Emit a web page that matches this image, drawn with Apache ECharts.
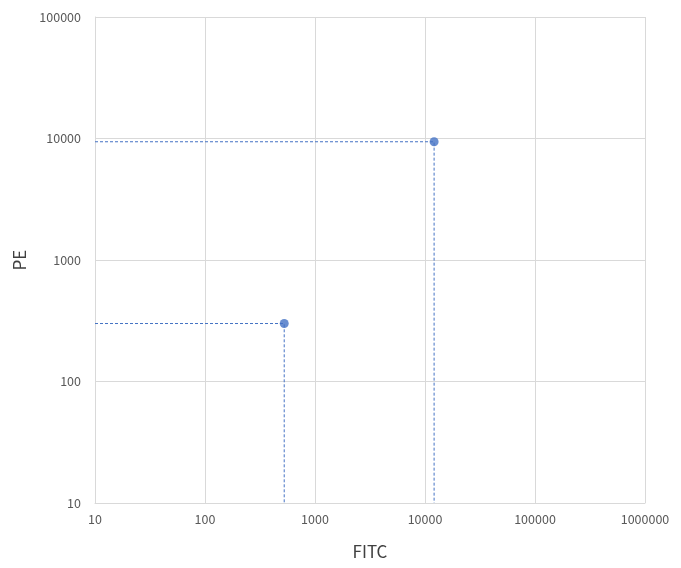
<!DOCTYPE html>
<html>
<head>
<meta charset="utf-8">
<script src="https://cdn.jsdelivr.net/npm/echarts@6/dist/echarts.min.js"></script>
<style>
  html, body { margin: 0; padding: 0; background: #fff; }
  #chart { width: 681px; height: 568px; }
</style>
</head>
<body>
<div id="chart"></div>
<script>
// 散布図のデータ（FITC / PE）
const fitcValues = [525, 12100]
const peValues = [300, 9400]
const xMin = 10
const yMin = 10

const points = fitcValues.map((x, i) => [x, peValues[i]])

// 点から両軸への破線
const guideSeries = points.map((p) => ({
  type: 'line',
  data: [[xMin, p[1]], [p[0], p[1]], [p[0], yMin]],
  symbol: 'none',
  silent: true,
  lineStyle: { color: '#4472C4', width: 1, type: [3, 2] },
  z: 1,
}))

const axisText = {
  color: '#595959',
  fontSize: 12.5,
  fontFamily: 'Noto Sans CJK JP',
  formatter: (v) => String(Math.round(v)), // 桁区切りなし
}
const nameText = { color: '#404040', fontSize: 17, fontFamily: 'Noto Sans CJK JP' }
const gridLine = { lineStyle: { color: '#d9d9d9', width: 1 } }

const chart = echarts.init(document.getElementById('chart'))
chart.setOption({
  animation: false,
  grid: { left: 95, right: 36, top: 17, bottom: 65 },
  xAxis: {
    type: 'log',
    logBase: 10,
    min: 10,
    max: 1000000,
    name: 'FITC',
    nameLocation: 'middle',
    nameGap: 40,
    nameTextStyle: nameText,
    axisLine: { show: true, lineStyle: { color: '#d9d9d9' } },
    axisTick: { show: false },
    axisLabel: { ...axisText, margin: 10, showMinLabel: true, showMaxLabel: true },
    splitLine: { show: true, ...gridLine },
  },
  yAxis: {
    type: 'log',
    logBase: 10,
    min: 10,
    max: 100000,
    name: 'PE',
    nameLocation: 'middle',
    nameGap: 66,
    nameRotate: 90,
    nameTextStyle: nameText,
    axisLine: { show: true, lineStyle: { color: '#d9d9d9' } },
    axisTick: { show: false },
    axisLabel: { ...axisText, margin: 14 },
    splitLine: { show: true, ...gridLine },
  },
  series: [
    ...guideSeries,
    {
      type: 'scatter',
      data: points,
      symbolSize: 9,
      itemStyle: { color: '#4472C4' },
      z: 3,
    },
  ],
})
</script>
</body>
</html>
